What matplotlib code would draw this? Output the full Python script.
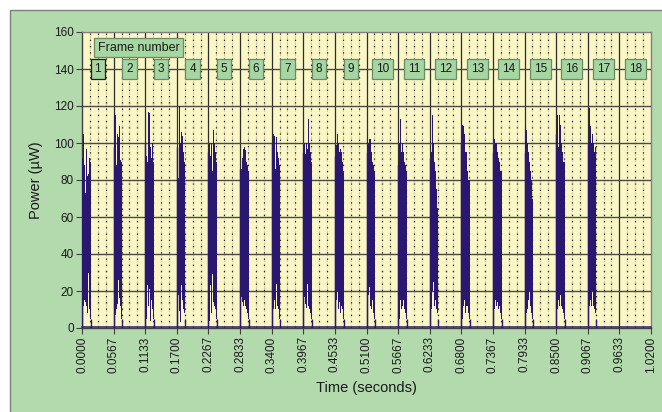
import numpy as np
import matplotlib
matplotlib.use("Agg")
import matplotlib.pyplot as plt
from matplotlib.patches import Rectangle

plt.rcParams['font.family'] = ['Liberation Sans', 'DejaVu Sans']

# ---------------- data ----------------
n_frames = 18
t_end = 1.02
frame_len = t_end / n_frames
burst_len = 0.0155
frame_labels = [str(i) for i in range(1, 19)]
xtick_labels = ["0.0000", "0.0567", "0.1133", "0.1700", "0.2267", "0.2833",
                "0.3400", "0.3967", "0.4533", "0.5100", "0.5667", "0.6233",
                "0.6800", "0.7367", "0.7933", "0.8500", "0.9067", "0.9633",
                "1.0200"]
ytick_values = [0, 20, 40, 60, 80, 100, 120, 140, 160]

# upper envelope of each burst (µW), frames 1..17 (frame 18 has no burst)
burst_peaks = [
    [92, 105, 88, 80, 73, 97, 82, 83, 92, 90],
    [98, 116, 115, 88, 105, 103, 109, 91, 90, 90],
    [100, 93, 90, 117, 116, 88, 98, 92, 100, 90],
    [98, 81, 98, 120, 100, 106, 104, 95, 90, 85],
    [95, 100, 93, 100, 85, 107, 110, 100, 95, 90],
    [86, 86, 92, 97, 89, 98, 96, 90, 88, 85],
    [100, 98, 105, 104, 86, 103, 95, 92, 90, 88],
    [95, 100, 94, 100, 97, 113, 113, 100, 95, 90],
    [93, 99, 108, 105, 100, 95, 97, 95, 90, 85],
    [95, 103, 100, 102, 102, 95, 90, 95, 88, 85],
    [88, 100, 113, 95, 107, 100, 95, 90, 88, 85],
    [92, 85, 95, 115, 100, 90, 85, 75, 65, 60],
    [100, 110, 109, 105, 95, 95, 90, 85, 80, 80],
    [95, 102, 100, 102, 100, 95, 92, 90, 85, 85],
    [95, 110, 107, 100, 95, 90, 85, 90, 80, 70],
    [105, 115, 98, 115, 105, 110, 100, 95, 90, 90],
    [100, 119, 105, 109, 100, 105, 100, 95, 98, 95],
]
# lower envelope of each burst (µW)
burst_lows = [
    [3, 12, 15, 7, 14, 12, 8, 30, 10, 5],
    [3, 12, 7, 10, 13, 26, 16, 12, 8, 5],
    [3, 5, 23, 12, 21, 16, 4, 15, 10, 5],
    [3, 18, 42, 9, 3, 23, 15, 10, 8, 5],
    [3, 4, 23, 8, 29, 14, 8, 12, 10, 5],
    [3, 17, 14, 12, 10, 15, 12, 10, 8, 5],
    [3, 7, 10, 15, 10, 24, 12, 10, 8, 5],
    [3, 17, 13, 11, 24, 10, 12, 10, 8, 5],
    [3, 15, 12, 20, 10, 14, 8, 12, 10, 5],
    [3, 12, 18, 22, 12, 10, 15, 12, 8, 5],
    [3, 5, 15, 10, 22, 12, 15, 10, 8, 5],
    [3, 15, 10, 20, 25, 12, 15, 10, 8, 5],
    [3, 5, 12, 15, 8, 12, 10, 12, 8, 5],
    [3, 10, 15, 18, 12, 14, 10, 12, 8, 5],
    [3, 12, 8, 10, 15, 20, 12, 10, 8, 5],
    [3, 10, 15, 12, 10, 18, 12, 10, 8, 5],
    [3, 12, 10, 15, 12, 20, 12, 10, 8, 5],
]

# ---------------- style ----------------
W, H = 662, 412
green = "#B3DAAD"
yellow = "#FAF6C6"
navy = "#2A1870"
box_fc = "#A6D6A2"
box_ec = "#6A8A6A"

fig = plt.figure(figsize=(W / 100, H / 100), dpi=100)
fig.patch.set_facecolor("white")
fig.patches.append(Rectangle((10 / W, -0.01), 1.0, 1 - 10 / H + 0.01,
                             transform=fig.transFigure, facecolor=green,
                             edgecolor="#7F7F7F", lw=1.0, zorder=-10))

ax = fig.add_axes([82 / W, 1 - 328 / H, 569 / W, 296 / H])
ax.set_facecolor(yellow)
ax.set_xlim(0, t_end)
ax.set_ylim(0, 160)

# grid: minor verticals (quarter of a frame)
minor_x = [i * frame_len + k * frame_len / 4 for i in range(n_frames) for k in (1, 2, 3)]
for x in minor_x:
    ax.axvline(x, color="#CFCBA6", lw=0.8, ls=(0, (3, 2)), zorder=1)
    ax.axvline(x, color="#202020", lw=0.9, ls=(0, (1, 4)), zorder=1.1)
# major verticals
for i in range(1, n_frames):
    ax.axvline(i * frame_len, color="#2E2E2E", lw=0.9, zorder=1.2)
# horizontals
for y in ytick_values[1:-1]:
    ax.axhline(y, color="#4A4A40", lw=1.0, zorder=1.2)

# signal bursts
for i, (pk, lo) in enumerate(zip(burst_peaks, burst_lows)):
    n = len(pk)
    t0 = i * frame_len
    edges = t0 + np.arange(n + 1) * burst_len / n
    ax.fill_between(edges, lo + [lo[-1]], pk + [pk[-1]], step="post",
                    color=navy, lw=0, zorder=3)
    ax.vlines([t0, t0 + burst_len], 0, [pk[0], lo[-1]], color=navy, lw=1.0, zorder=3)
ax.plot([0, t_end], [0.4, 0.4], color=navy, lw=1.1, zorder=3, clip_on=False)

# frame labels
for i, lab in enumerate(frame_labels):
    ax.text((i + 0.5) * frame_len, 140, lab, ha="center", va="center",
            fontsize=8.5, color="#1A1A1A", zorder=5,
            bbox=dict(boxstyle="square,pad=0.33", fc=box_fc,
                      ec="#202020" if i == 0 else box_ec, lw=0.9))
ax.text(0.1013, 151.5, "Frame number", ha="center", va="center", fontsize=9,
        color="#1A1A1A", zorder=5,
        bbox=dict(boxstyle="square,pad=0.28", fc=box_fc, ec=box_ec, lw=0.9))

# axes / ticks
xt = [i * frame_len for i in range(n_frames + 1)]
ax.set_xticks(xt)
ax.set_xticklabels(xtick_labels, rotation=90, fontsize=8.5, color="#1A1A1A")
ax.set_yticks(ytick_values)
ax.set_yticklabels([str(v) for v in ytick_values], fontsize=8.5, color="#1A1A1A")
ax.tick_params(axis="both", direction="out", length=4, width=0.8, color="#404040", pad=2)
for s in ax.spines.values():
    s.set_color("#808080")
    s.set_linewidth(1.0)
ax.spines["left"].set_color("#404040")
ax.spines["bottom"].set_color("#404040")

ax.set_xlabel("Time (seconds)", fontsize=10.5, color="#1A1A1A", labelpad=6)
ax.set_ylabel("Power (µW)", fontsize=10.5, color="#1A1A1A", labelpad=8)

fig.savefig("out.png", dpi=100, facecolor=fig.get_facecolor())
